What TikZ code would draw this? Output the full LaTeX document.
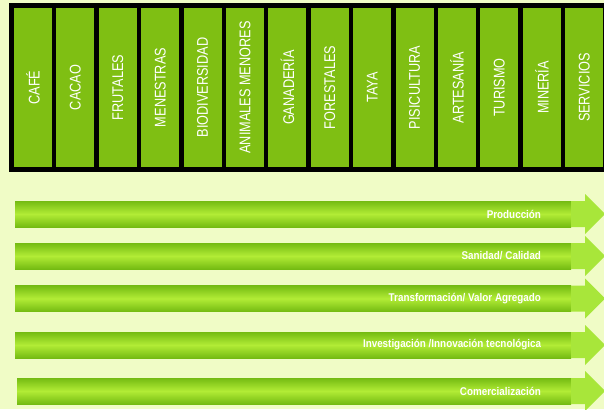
\documentclass[tikz,border=0pt]{standalone}
\usepackage{fontspec}
\setmainfont{Liberation Sans}
\newfontfamily\narrowfont{Liberation Sans}[FakeStretch=0.82]
\newfontfamily\stagefont{Liberation Sans}[FakeStretch=0.88]
\usetikzlibrary{positioning}

\definecolor{paper}{HTML}{F0FCC6}
\definecolor{cellgreen}{HTML}{7FBF13}
\definecolor{bardark}{HTML}{74BB12}
\definecolor{barlight}{HTML}{B2EC36}
\definecolor{headgreen}{HTML}{A8E63A}

\begin{document}
\begin{tikzpicture}[
		x=1pt,
		y=-1pt,
		every node/.style={inner sep=0pt, outer sep=0pt},
		frame/.style={fill=black, minimum width=601pt, minimum height=169pt, anchor=north west},
		cell/.style={fill=cellgreen, rotate=90, minimum width=159pt, minimum height=38pt, text=white,
			font=\narrowfont\fontsize{15.5}{18}\selectfont},
		bar/.style={anchor=west, minimum height=26pt, top color=bardark, bottom color=bardark, middle color=barlight},
		head/.style={fill=headgreen},
		stage/.style={text=white, font=\stagefont\bfseries\fontsize{11.2}{13}\selectfont}
	]

		% Background
		\useasboundingbox (0,0) rectangle (604,409);
		\clip (0,0) rectangle (604,409);
		\fill[paper] (0,0) rectangle (604,409);

		% Sectors
		\node[frame] (frame) at (9,3) {};
		\node[cell] (cafe) at (33,87.5) {CAFÉ};
		\node[cell] (cacao) at (75.4,87.5) {CACAO};
		\node[cell] (frutales) at (117.8,87.5) {FRUTALES};
		\node[cell] (menestras) at (160.2,87.5) {MENESTRAS};
		\node[cell] (biodiv) at (202.6,87.5) {BIODIVERSIDAD};
		\node[cell] (animales) at (245,87.5) {ANIMALES MENORES};
		\node[cell] (ganaderia) at (287.4,87.5) {GANADERÍA};
		\node[cell] (forestales) at (329.8,87.5) {FORESTALES};
		\node[cell] (taya) at (372.2,87.5) {TAYA};
		\node[cell] (piscicultura) at (414.6,87.5) {PISICULTURA};
		\node[cell] (artesania) at (457,87.5) {ARTESANÍA};
		\node[cell] (turismo) at (499.4,87.5) {TURISMO};
		\node[cell] (mineria) at (541.8,87.5) {MINERÍA};
		\node[cell] (servicios) at (584.2,87.5) {SERVICIOS};

		% Stages
		\node[bar, minimum width=556pt] (bar1) at (15,214) {};
		\fill[head] (bar1.north east) -- ++(14,0) -- ++(0,-7) -- ++(20,20) -- ++(-20,20) -- ++(0,-7) -- (bar1.south east) -- cycle;
		\node[stage, left=30pt of bar1.east] (produccion) {Producción};

		\node[bar, minimum width=556pt] (bar2) at (15,256) {};
		\fill[head] (bar2.north east) -- ++(14,0) -- ++(0,-7) -- ++(20,20) -- ++(-20,20) -- ++(0,-7) -- (bar2.south east) -- cycle;
		\node[stage, left=30pt of bar2.east] (sanidad) {Sanidad/ Calidad};

		\node[bar, minimum width=556pt] (bar3) at (15,298.5) {};
		\fill[head] (bar3.north east) -- ++(14,0) -- ++(0,-7) -- ++(20,20) -- ++(-20,20) -- ++(0,-7) -- (bar3.south east) -- cycle;
		\node[stage, left=30pt of bar3.east] (transformacion) {Transformación/ Valor Agregado};

		\node[bar, minimum width=556pt] (bar4) at (15,345) {};
		\fill[head] (bar4.north east) -- ++(14,0) -- ++(0,-7) -- ++(20,20) -- ++(-20,20) -- ++(0,-7) -- (bar4.south east) -- cycle;
		\node[stage, left=30pt of bar4.east] (investigacion) {Investigación /Innovación tecnológica};

		\node[bar, minimum width=554pt] (bar5) at (17,391) {};
		\fill[head] (bar5.north east) -- ++(14,0) -- ++(0,-7) -- ++(20,20) -- ++(-20,20) -- ++(0,-7) -- (bar5.south east) -- cycle;
		\node[stage, left=30pt of bar5.east] (comercializacion) {Comercialización};
	\end{tikzpicture}
\end{document}
